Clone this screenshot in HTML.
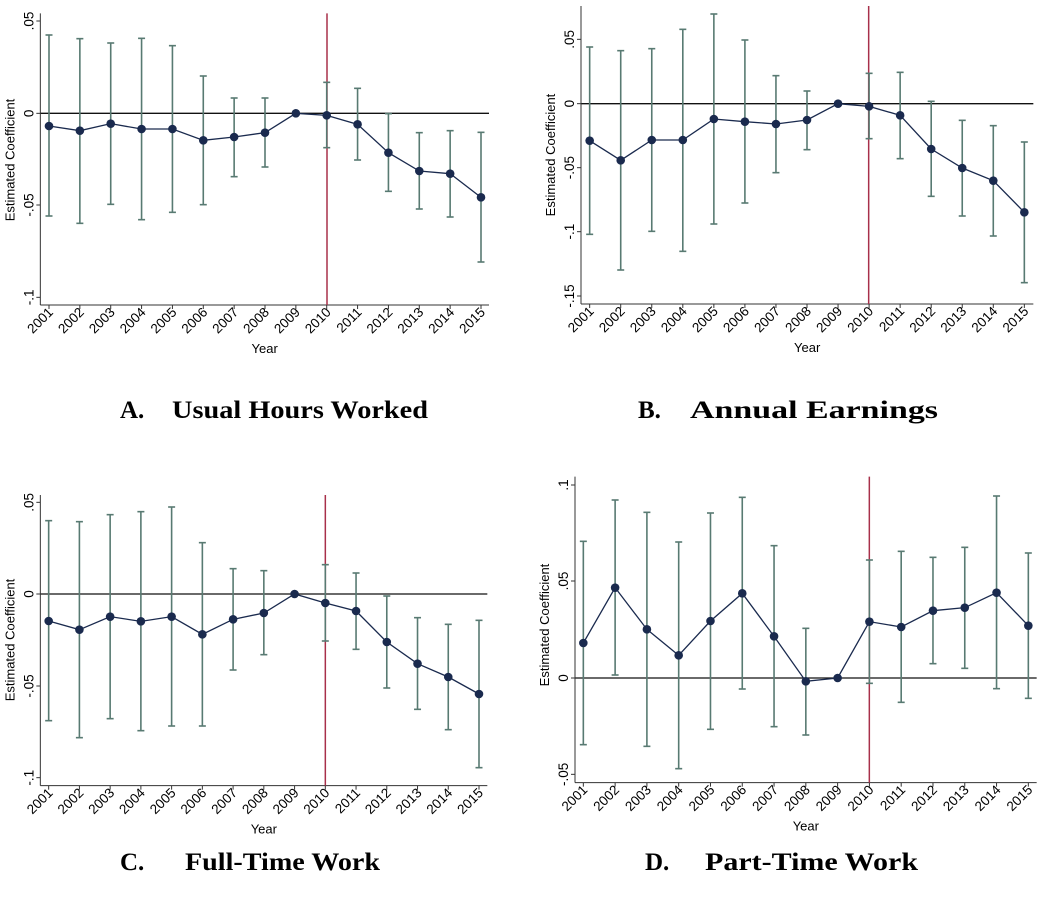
<!DOCTYPE html>
<html><head><meta charset="utf-8"><style>
html,body{margin:0;padding:0;background:#fff;}
svg{display:block;}
</style></head><body>
<svg id="s" width="1050" height="905" xmlns="http://www.w3.org/2000/svg" font-family="Liberation Sans, Arial, sans-serif"></svg>
<script>
const P=[
 {ox:0,oy:0,left:121,bottom:915,x0:147,x1:1443,top:40,right:1467,red:981,zero:340,
  ticks:[[63,'.05'],[340,'0'],[615,'-.05'],[892,'-.1']],yc:160,
  d:[[378,105,648],[392,116,670],[371,129,613],[387,115,659],[387,137,637],[421,228,614],[411,294,530],[398,294,501],[340],[346,247,443],[373,265,480],[458,341,574],[513,398,627],[521,392,651],[592,397,786]]},
 {ox:520,oy:0,left:183,bottom:912,x0:209,x1:1513,top:18,right:1540,red:1046,zero:311,
  ticks:[[118,'.05'],[311,'0'],[503,'-.05'],[695,'-.1'],[888,'-.15']],yc:155,
  d:[[422,141,703],[481,152,810],[420,146,694],[420,88,754],[357,42,672],[365,120,609],[372,227,518],[360,273,449],[311],[319,220,416],[346,217,476],[447,304,589],[504,361,648],[542,377,708],[637,426,848]]},
 {ox:0,oy:480,left:121,bottom:917,x0:146,x1:1437,top:45,right:1462,red:976,zero:342,
  ticks:[[67,'.05'],[342,'0'],[618,'-.05'],[893,'-.1']],yc:640,
  d:[[423,122,722],[449,125,773],[410,104,716],[424,95,752],[410,81,738],[463,188,738],[418,266,570],[399,272,524],[342],[369,254,483],[393,279,508],[486,348,624],[551,413,688],[591,433,749],[642,421,863]]},
 {ox:520,oy:470,left:165,bottom:938,x0:190,x1:1525,top:20,right:1550,red:1048,zero:624,
  ticks:[[45,'.1'],[333,'.05'],[624,'0'],[913,'-.05']],yc:625,
  d:[[519,214,824],[353,90,615],[478,127,829],[556,216,896],[453,129,778],[370,82,657],[499,227,770],[634,475,795],[624],[455,270,640],[471,244,697],[422,262,581],[413,232,595],[368,78,656],[467,249,685]]}
];
let h='';
for(const p of P){
 const X=z=>p.ox+z/3, Y=z=>p.oy+z/3;
 const L=X(p.left),B=Y(p.bottom),T=Y(p.top),R=X(p.right);
 const xs=i=>X(p.x0+(p.x1-p.x0)*i/14);
 h+=`<line x1="${L}" y1="${Y(p.zero)}" x2="${R}" y2="${Y(p.zero)}" stroke="#111" stroke-width="1.3"/>`;
 h+=`<line x1="${L}" y1="${T}" x2="${L}" y2="${B}" stroke="#333" stroke-width="1"/>`;
 h+=`<line x1="${L}" y1="${B}" x2="${R}" y2="${B}" stroke="#333" stroke-width="1"/>`;
 for(const [ty,lab] of p.ticks){
  const y=Y(ty);
  h+=`<line x1="${L-4}" y1="${y}" x2="${L}" y2="${y}" stroke="#333"/>`;
  h+=`<text x="${L-7}" y="${y}" font-size="13.5" text-anchor="middle" transform="rotate(-90 ${L-7} ${y})">${lab}</text>`;
 }
 h+=`<text x="${L-26}" y="${p.yc}" font-size="13" text-anchor="middle" transform="rotate(-90 ${L-26} ${p.yc})">Estimated Coefficient</text>`;
 for(let i=0;i<15;i++){
  const x=xs(i);
  h+=`<line x1="${x}" y1="${B}" x2="${x}" y2="${B+4}" stroke="#333"/>`;
  h+=`<text x="${x+5}" y="${B+8}" font-size="13.5" text-anchor="end" transform="rotate(-45 ${x+5} ${B+8})">${2001+i}</text>`;
 }
 h+=`<text x="${(L+R)/2}" y="${B+48}" font-size="13" text-anchor="middle">Year</text>`;
 h+=`<line x1="${X(p.red)}" y1="${T}" x2="${X(p.red)}" y2="${B}" stroke="#a8304a" stroke-width="1.5"/>`;
 p.d.forEach((d,i)=>{ if(d.length<3)return; const x=xs(i);
  h+=`<g stroke="#587a72" stroke-width="1.6"><line x1="${x}" y1="${Y(d[1])}" x2="${x}" y2="${Y(d[2])}"/><line x1="${x-3.5}" y1="${Y(d[1])}" x2="${x+3.5}" y2="${Y(d[1])}"/><line x1="${x-3.5}" y1="${Y(d[2])}" x2="${x+3.5}" y2="${Y(d[2])}"/></g>`;});
 h+=`<polyline fill="none" stroke="#1a2a4e" stroke-width="1.3" points="${p.d.map((d,i)=>xs(i)+','+Y(d[0])).join(' ')}"/>`;
 p.d.forEach((d,i)=>{h+=`<circle cx="${xs(i)}" cy="${Y(d[0])}" r="4.3" fill="#1a2a4e"/>`;});
}
const cap=[[120,172,428,418,'A.','Usual Hours Worked'],[638,690,938,418,'B.','Annual Earnings'],[120,185,380,870,'C.','Full-Time Work'],[645,705,918,870,'D.','Part-Time Work']];
for(const c of cap){
 h+=`<text x="${c[0]}" y="${c[3]}" font-family="Liberation Serif, serif" font-weight="bold" font-size="25">${c[4]}</text>`;
 h+=`<text x="${c[1]}" y="${c[3]}" font-family="Liberation Serif, serif" font-weight="bold" font-size="25" textLength="${c[2]-c[1]}" lengthAdjust="spacingAndGlyphs">${c[5]}</text>`;
}
document.getElementById('s').innerHTML=h;
</script>
</body></html>
